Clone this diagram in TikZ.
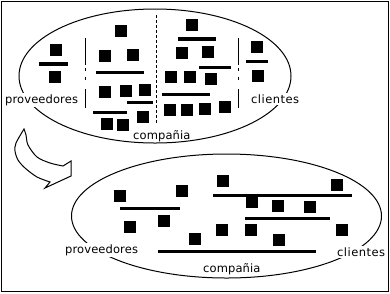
\documentclass[tikz,border=0pt]{standalone}
\usepackage{fontspec}
\newfontfamily\lblfont[LetterSpace=1]{DejaVu Sans}
\newfontfamily\clifont[LetterSpace=4]{DejaVu Sans}
\begin{document}
\begin{tikzpicture}[x=1pt,y=-1pt,
  thinline/.style={line width=1pt},
  bar/.style={line width=3.5pt},
  sepline/.style={line width=1pt},
  lbl/.style={font=\lblfont\fontsize{11.5}{13}\selectfont, inner sep=1.5pt, anchor=base west},
  clilbl/.style={lbl, font=\clifont\fontsize{11.5}{13}\selectfont},
  gaplbl/.style={fill=white},
  blk/.pic={\fill (-6,-6) rectangle (6,6);}
]
\useasboundingbox (0,0) rectangle (390,293);

% ellipses
\draw[thinline] (155,76) ellipse [x radius=136pt, y radius=67pt];
\draw[thinline] (226.5,216) ellipse [x radius=155pt, y radius=62pt];

% ---- top ellipse contents ----
% proveedores column
\pic at (56,50.3) {blk};
\draw[bar] (39,63.8) -- (68,63.8);
\pic at (55.3,77.2) {blk};

% separators
\foreach \sx in {85.5,238.5}{
  \draw[sepline] (\sx,38) -- (\sx,64.5);
  \draw[sepline] (\sx,67.5) -- (\sx,71);
  \draw[sepline] (\sx,76.5) -- (\sx,80);
  \draw[sepline] (\sx,89) -- (\sx,107.5);
}
\draw[sepline, dash pattern=on 3pt off 2pt] (156.5,15) -- (156.5,124);

% company left half
\foreach \p in {(121,31),(105,55.7),(133,55.3),(105,92),(126,91),(145,90.3),(143,117.3),(107,124.3),(123,125.3)}
  \pic at \p {blk};
\draw[bar] (96,72.7) -- (144,72.7);
\draw[bar] (127,102.7) -- (153,102.7);
\draw[bar] (93,112.7) -- (127,112.7);

% company right half
\foreach \p in {(192,24.5),(182,53.3),(208,52.3),(171,77.3),(190,77.3),(211,79.3),(170,110.2),(187,110.3),(205,109),(225,107.3)}
  \pic at \p {blk};
\draw[bar] (178,38.8) -- (216,38.8);
\draw[bar] (199,67.7) -- (231,67.7);
\draw[bar] (162,94.7) -- (210,94.7);

% clientes column
\pic at (257,47.3) {blk};
\draw[bar] (246,61.7) -- (268,61.7);
\pic at (258,76.3) {blk};

% ---- bottom ellipse contents ----
\foreach \p in {(120,195.5),(182,191.3),(130,227.3),(164,221.3),(195,239.3),(223,181.3),(252,201.5),(278,206),(310,207),(337,185.3),(222,230),(251,230.3),(279,240.3),(342,230.3)}
  \pic at \p {blk};
\draw[bar] (120,208.5) -- (180,208.5);
\draw[bar] (158,251.5) -- (316,251.5);
\draw[bar] (213,195.7) -- (352,195.7);
\draw[bar] (245,218.5) -- (330,218.5);

% curved hollow arrow
\draw[thinline, line join=miter]
  plot[smooth] coordinates {(24,129) (16,143) (15,151) (18,160) (25,168) (37,177) (50,182)}
  -- (45,188) -- (71,176) -- (71,161)
  -- plot[smooth] coordinates {(63,166) (50,163) (37,157) (28,145) (26,135) (24,129)}
  -- cycle;

% labels
\node[lbl, gaplbl] (provA) at (3.5,103) {proveedores};
\node[clilbl, gaplbl] (cliA) at (249.5,103) {clientes};
\node[lbl] (compA) at (131.5,139) {compañia};
\node[lbl, gaplbl] (provB) at (63.5,253) {proveedores};
\node[lbl] (compB) at (201.5,272) {compañia};
\node[clilbl, gaplbl] (cliB) at (335.5,256.5) {clientes};

% frame
\draw[thinline] (1.5,1.5) rectangle (388,291.5);
\end{tikzpicture}
\end{document}
